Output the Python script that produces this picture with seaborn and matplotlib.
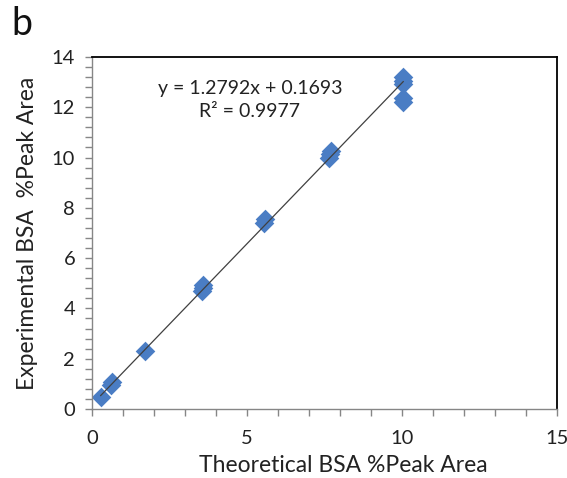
import numpy as np
import pandas as pd
import matplotlib
matplotlib.use("Agg")
import matplotlib.pyplot as plt
import seaborn as sns
from matplotlib.ticker import MultipleLocator

# Data
theoretical = [0.28, 0.62, 0.66, 1.70, 3.55, 3.57, 3.58, 5.55, 5.57,
               7.66, 7.68, 7.70, 10.03, 10.03, 10.04, 10.04, 10.05]
experimental = [0.48, 0.95, 1.08, 2.32, 4.68, 4.82, 4.92, 7.38, 7.55,
                9.98, 10.15, 10.28, 12.22, 12.38, 12.92, 13.05, 13.20]
slope = 1.2792
intercept = 0.1693
r2 = 0.9977
x_ticks = [0, 5, 10, 15]
y_ticks = [0, 2, 4, 6, 8, 10, 12, 14]

sns.set_style("ticks")
plt.rcParams['font.family'] = ['Lato', 'DejaVu Sans']

df = pd.DataFrame({"x": theoretical, "y": experimental})
xs = np.array([min(theoretical), max(theoretical)])
fit = pd.DataFrame({"x": xs, "y": slope * xs + intercept})

fig = plt.figure(figsize=(5.67, 4.78), dpi=100)
ax = fig.add_axes([0.162, 0.1444, 0.820, 0.7364])

blue = "#4A7DC4"
sns.scatterplot(data=df, x="x", y="y", marker="D", s=100, color=blue,
                edgecolor=blue, linewidth=0, ax=ax, zorder=2)
sns.lineplot(data=fit, x="x", y="y", color="#404040", linewidth=0.9,
             ax=ax, zorder=3)

ax.set_xlim(0, 15)
ax.set_ylim(0, 14)
ax.set_xticks(x_ticks)
ax.set_yticks(y_ticks)
ax.xaxis.set_minor_locator(MultipleLocator(1))
ax.yaxis.set_minor_locator(MultipleLocator(0.4))
ax.tick_params(axis="both", which="both", direction="out", color="#868686",
               width=1, labelsize=14.5, labelcolor="#222222")
ax.tick_params(which="major", length=5)
ax.tick_params(axis="x", which="major", pad=10)
ax.tick_params(axis="y", which="major", pad=7)
ax.tick_params(which="minor", length=5)

for side in ["left", "bottom"]:
    ax.spines[side].set_color("#868686")
    ax.spines[side].set_linewidth(1)
for side in ["top", "right"]:
    ax.spines[side].set_visible(True)
    ax.spines[side].set_color("black")
    ax.spines[side].set_linewidth(1.3)

ax.set_xlabel("Theoretical BSA %Peak Area", fontsize=16.5, color="#222222")
ax.xaxis.set_label_coords(0.54, -0.132)
ax.set_ylabel("Experimental BSA  %Peak Area", fontsize=16.5, color="#222222",
              labelpad=10)

ax.text(5.1, 12.75, f"y = {slope:.4f}x + {intercept:.4f}", ha="center",
        va="center", fontsize=14, color="#222222")
ax.text(5.1, 11.85, f"R² = {r2:.4f}", ha="center", va="center",
        fontsize=14, color="#222222")

fig.text(0.02, 0.95, "b", fontsize=27, color="#111111", ha="left",
         va="center")

fig.savefig("out.png", dpi=100, facecolor="white")
